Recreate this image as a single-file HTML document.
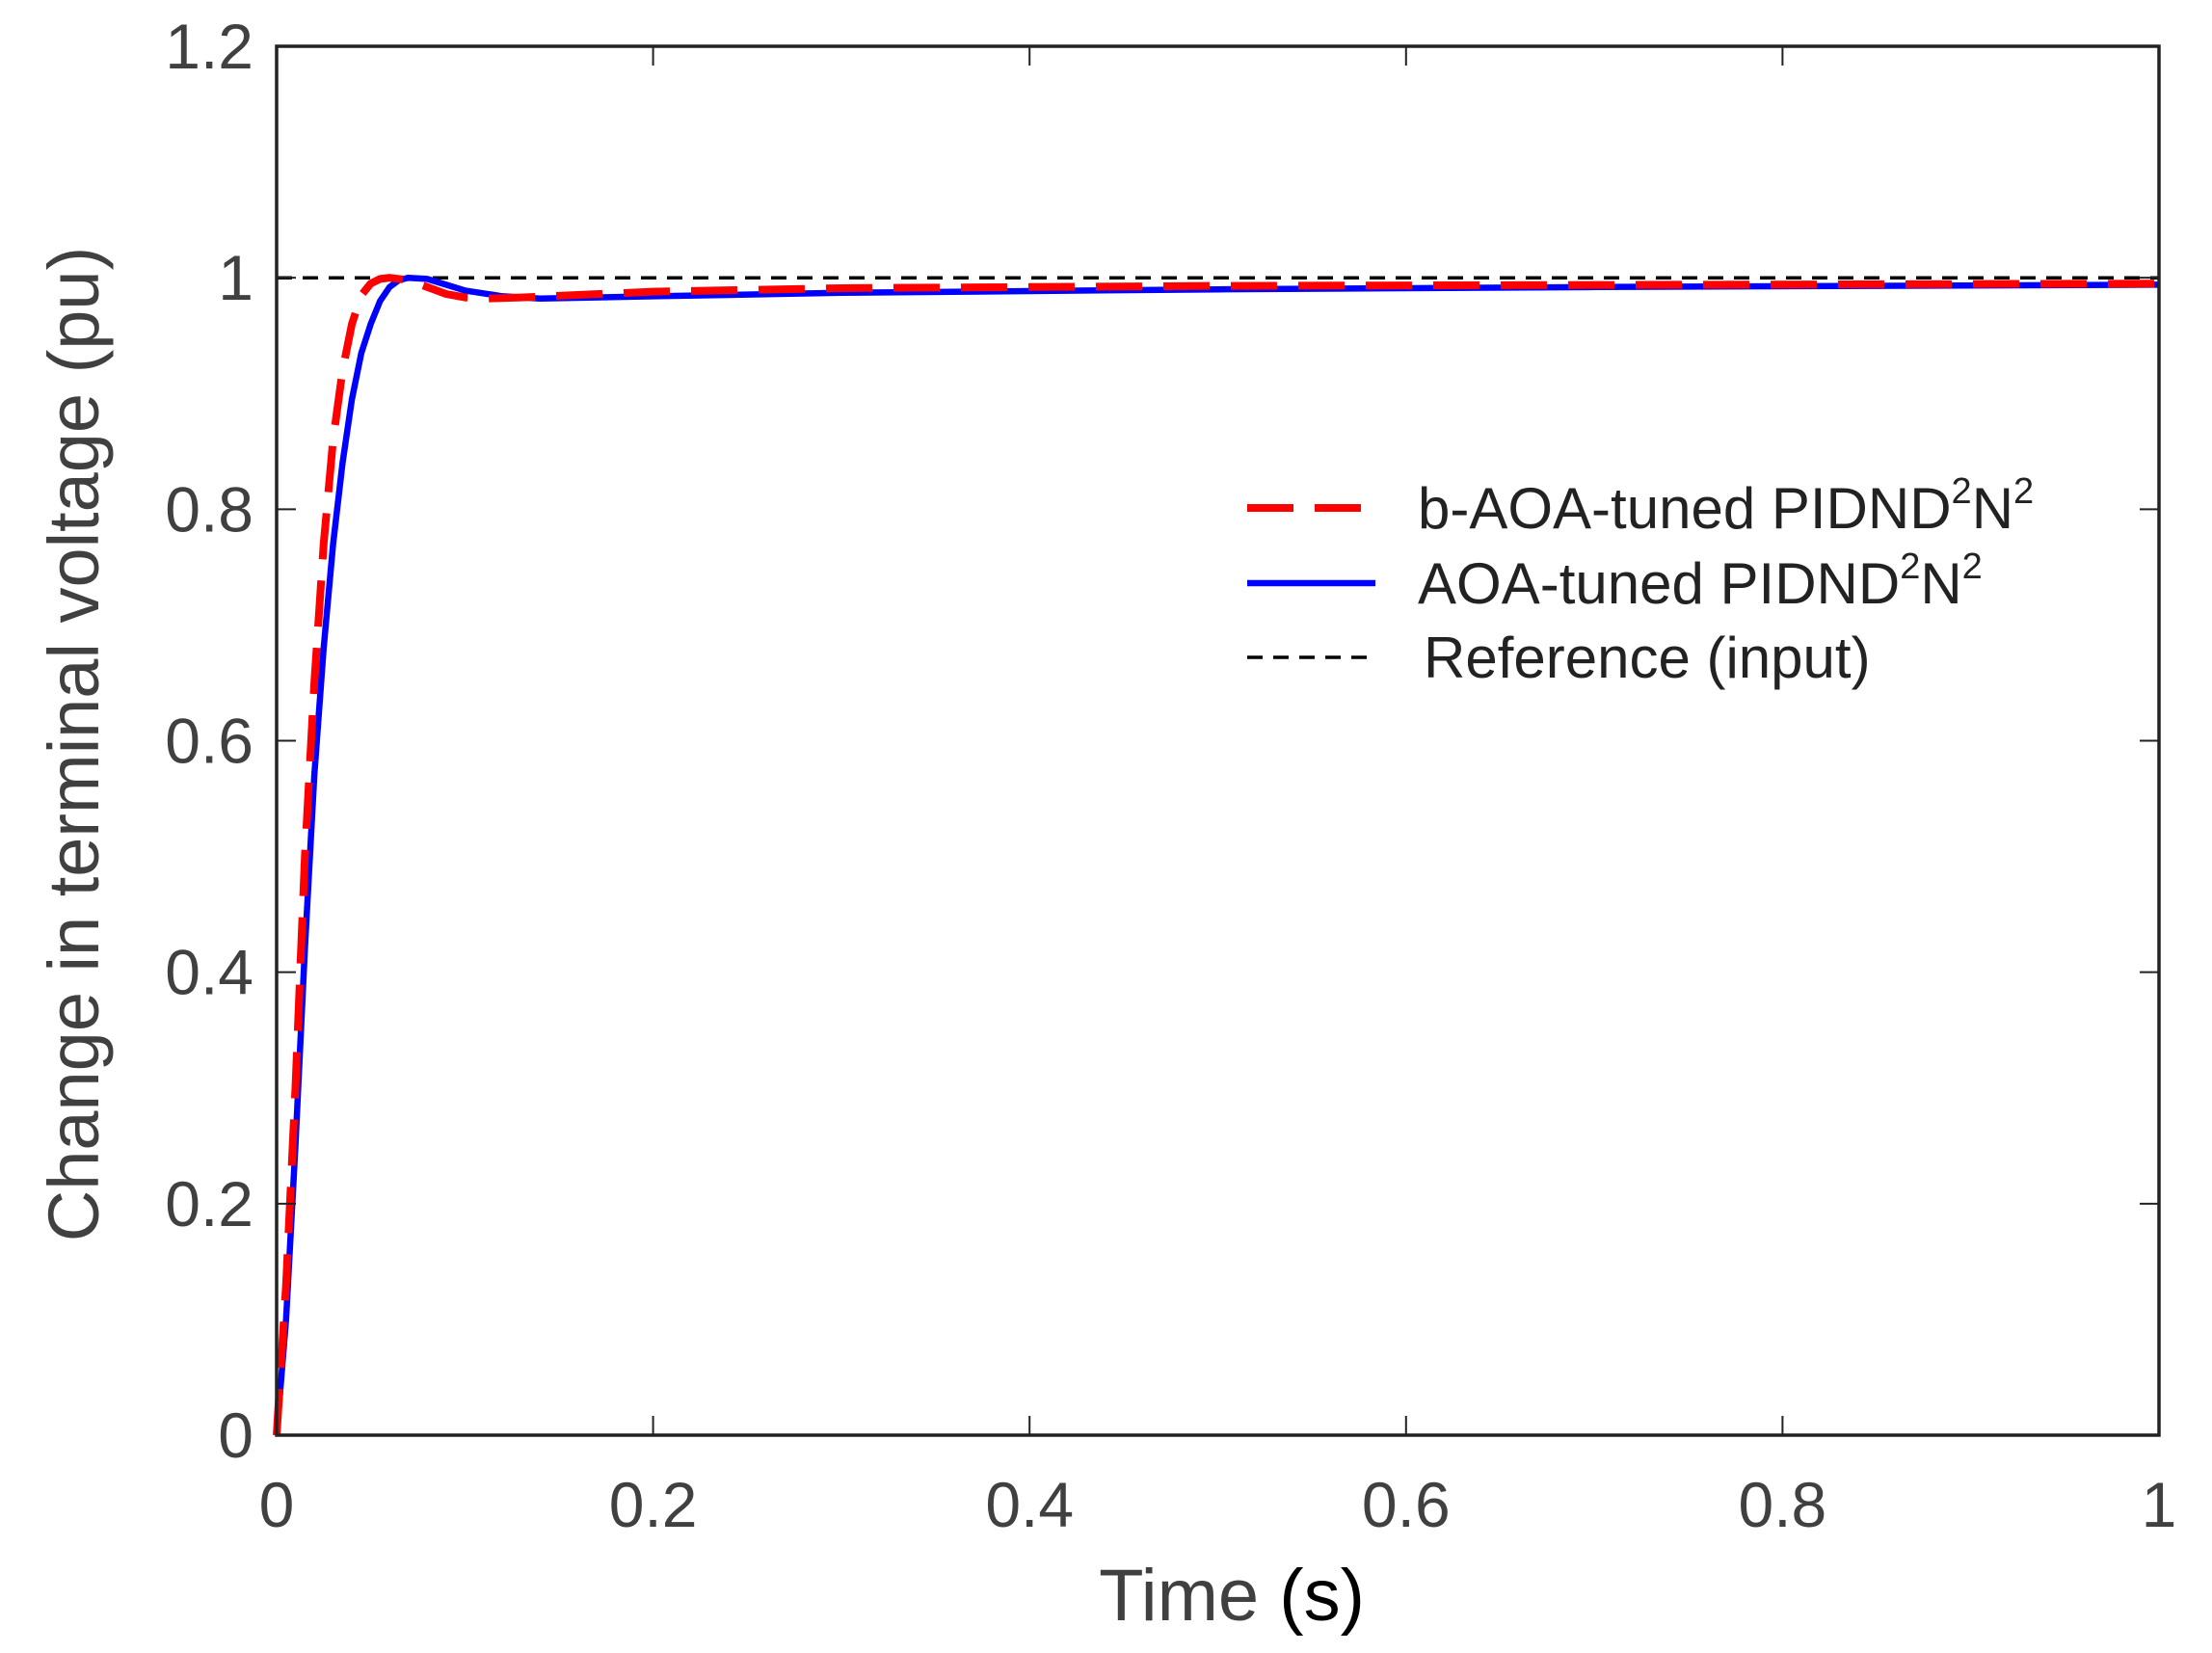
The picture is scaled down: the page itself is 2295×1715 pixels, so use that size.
<!DOCTYPE html>
<html><head><meta charset="utf-8"><style>
html,body{margin:0;padding:0;background:#fff;position:relative;}
svg{display:block;font-family:"Liberation Sans",Arial,sans-serif;}
</style></head><body>
<svg id="chart" width="2295" height="1715" viewBox="0 0 2295 1715">
</svg>
<script>
const xTicks=[0,0.2,0.4,0.6,0.8,1];
const xTickLabels=["0","0.2","0.4","0.6","0.8","1"];
const yTicks=[0,0.2,0.4,0.6,0.8,1,1.2];
const yTickLabels=["0","0.2","0.4","0.6","0.8","1","1.2"];
const tBlue=[0,0.005,0.01,0.015,0.02,0.025,0.03,0.035,0.04,0.045,0.05,0.055,0.06,0.065,0.07,0.08,0.09,0.1,0.12,0.14,0.2,0.3,0.5,0.7,1];
const vBlue=[0,0.1,0.25,0.42,0.57,0.68,0.77,0.84,0.895,0.935,0.96,0.98,0.992,0.998,1.0,0.999,0.994,0.989,0.984,0.982,0.984,0.987,0.99,0.992,0.994];
const tRed=[0,0.005,0.01,0.015,0.02,0.025,0.03,0.035,0.04,0.045,0.05,0.055,0.06,0.07,0.08,0.09,0.1,0.11,0.13,0.2,0.3,0.5,1];
const vRed=[0,0.13,0.3,0.5,0.65,0.77,0.86,0.92,0.96,0.985,0.995,0.999,1.0,0.998,0.992,0.986,0.983,0.982,0.983,0.988,0.991,0.993,0.995];
const tRef=[0,1];
const vRef=[1,1];

const L=287,R=2240,T=48,B=1489;
const X=v=>L+(v-0)/(1-0)*(R-L);
const Y=v=>B-(v-0)/(1.2-0)*(B-T);
const NS="http://www.w3.org/2000/svg";
const svg=document.getElementById('chart');
function mk(tag,attrs,parent){const e=document.createElementNS(NS,tag);for(const k in attrs)e.setAttribute(k,attrs[k]);(parent||svg).appendChild(e);return e;}

function series(ts,vs,color,w,dash,name){
  const d=ts.map((t,i)=>(i?'L':'M')+X(t).toFixed(1)+','+Y(vs[i]).toFixed(1)).join(' ');
  const p=mk('path',{d:d,fill:'none',stroke:color,'stroke-width':w,'stroke-dasharray':dash,'stroke-linejoin':'round'});
  
  
}
series(tRef,vRef,'#000',3.5,'16 11','reference-line');
series(tBlue,vBlue,'#0000ff',6.5,'none','aoa-line');
series(tRed,vRed,'#ff0000',8,'48 22','b-aoa-line');

const box=mk('rect',{x:L,y:T,width:R-L,height:B-T,fill:'none',stroke:'#222','stroke-width':3.5});



xTicks.forEach((v,i)=>{
  const x=X(v);
  mk('line',{x1:x,y1:B,x2:x,y2:B-20,stroke:'#222','stroke-width':2});
  mk('line',{x1:x,y1:T,x2:x,y2:T+20,stroke:'#222','stroke-width':2});
  const t=mk('text',{x:x,y:1584,'text-anchor':'middle','font-size':66,fill:'#404040'});
  t.textContent=xTickLabels[i];
  
  
});
yTicks.forEach((v,i)=>{
  const y=Y(v);
  mk('line',{x1:L,y1:y,x2:L+20,y2:y,stroke:'#222','stroke-width':2});
  mk('line',{x1:R,y1:y,x2:R-20,y2:y,stroke:'#222','stroke-width':2});
  const t=mk('text',{x:263,y:y+23,'text-anchor':'end','font-size':66,fill:'#404040'});
  t.textContent=yTickLabels[i];
  
  
});
</script>
<svg width="2295" height="1715" style="position:absolute;left:0;top:0" viewBox="0 0 2295 1715">
<text x="1278" y="1681" text-anchor="middle" font-size="76" fill="#404040" font-family="Liberation Sans,sans-serif">Time <tspan fill="#000">(s)</tspan></text>
<text transform="translate(102,772) rotate(-90)" text-anchor="middle" font-size="74" fill="#404040" font-family="Liberation Sans,sans-serif">Change in terminal voltage (pu)</text>
<g font-family="Liberation Sans,sans-serif" font-size="60" fill="#222">
 <line x1="1294" y1="527" x2="1427" y2="527" stroke="#ff0000" stroke-width="8" stroke-dasharray="48 22"/>
 <text x="1471" y="548">b-AOA-tuned PIDND<tspan font-size="38" dy="-26">2</tspan><tspan dy="26">N</tspan><tspan font-size="38" dy="-26">2</tspan></text>
 <line x1="1294" y1="605" x2="1427" y2="605" stroke="#0000ff" stroke-width="6.5"/>
 <text x="1471" y="626">AOA-tuned PIDND<tspan font-size="38" dy="-26">2</tspan><tspan dy="26">N</tspan><tspan font-size="38" dy="-26">2</tspan></text>
 <line x1="1294" y1="682" x2="1427" y2="682" stroke="#000" stroke-width="3.5" stroke-dasharray="16 11"/>
 <text x="1477" y="703">Reference (input)</text>
</g>
</svg>
</body></html>
